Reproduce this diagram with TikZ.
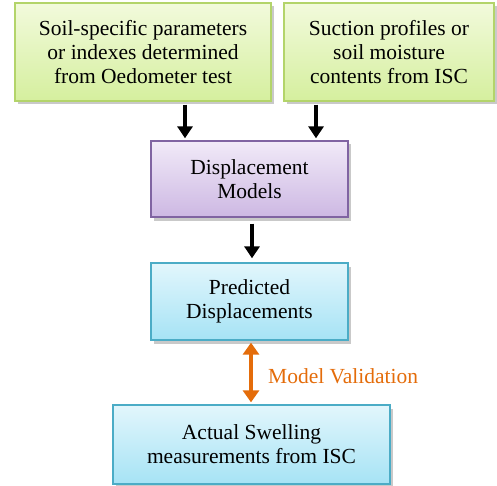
\documentclass[tikz,border=0pt]{standalone}
\usepackage{fontspec}
\setmainfont{Liberation Serif}
\usetikzlibrary{shadows,arrows.meta}
\definecolor{gtop}{HTML}{F2FADC}
\definecolor{gbot}{HTML}{D5EF9E}
\definecolor{gbor}{HTML}{B3D46A}
\definecolor{ptop}{HTML}{F1EAF8}
\definecolor{pbot}{HTML}{CDB8E3}
\definecolor{pbor}{HTML}{8064A2}
\definecolor{ctop}{HTML}{E2F6FC}
\definecolor{cbot}{HTML}{A6E3F5}
\definecolor{cbor}{HTML}{4BACC6}
\definecolor{orng}{HTML}{E46C0A}
\begin{document}
\begin{tikzpicture}[x=1pt,y=1pt,
  box/.style={rectangle, align=center, inner sep=0pt, line width=1.3pt,
    font=\fontsize{21.5}{24}\selectfont,
    drop shadow={shadow xshift=3pt, shadow yshift=-3.5pt, opacity=0.3, fill=black!70}},
  gbox/.style={box, draw=gbor, top color=gtop, bottom color=gbot},
  pbox/.style={box, draw=pbor, top color=ptop, bottom color=pbot},
  cbox/.style={box, draw=cbor, top color=ctop, bottom color=cbot},
  arr/.style={line width=3.4pt, -{Triangle[length=12pt,width=15pt]}},
  darr/.style={line width=3.8pt, draw=orng, {Triangle[length=12pt,width=16pt]}-{Triangle[length=12pt,width=16pt]}}
]
\useasboundingbox (0,0) rectangle (497,-486);
\node[gbox, minimum width=256pt, minimum height=98pt] (b1) at (143,-52)
  {Soil-specific parameters\\or indexes determined\\from Oedometer test};
\node[gbox, minimum width=210pt, minimum height=98pt] (b2) at (389,-52)
  {Suction profiles or\\soil moisture\\contents from ISC};
\node[pbox, minimum width=197pt, minimum height=76pt] (b3) at (249.5,-179)
  {Displacement\\Models};
\node[cbox, minimum width=197pt, minimum height=77pt] (b4) at (249.5,-301.5)
  {Predicted\\Displacements};
\node[cbox, minimum width=277pt, minimum height=79pt] (b5) at (251.5,-444.5)
  {Actual Swelling\\measurements from ISC};
\draw[arr] ([xshift=42pt,yshift=-3pt]b1.south) -- ([xshift=-64.5pt,yshift=2pt]b3.north);
\draw[arr] ([xshift=-73pt,yshift=-3pt]b2.south) -- ([xshift=66.5pt,yshift=2pt]b3.north);
\draw[arr] ([xshift=2.5pt,yshift=-6pt]b3.south) -- ([xshift=2.5pt,yshift=4pt]b4.north);
\draw[darr] ([xshift=1.5pt,yshift=-2pt]b4.south) -- ([xshift=-0.5pt,yshift=2pt]b5.north)
  node[midway, right=12pt, yshift=-4pt, text=orng, font=\fontsize{21.5}{24}\selectfont] (lbl) {Model Validation};
\end{tikzpicture}
\end{document}
